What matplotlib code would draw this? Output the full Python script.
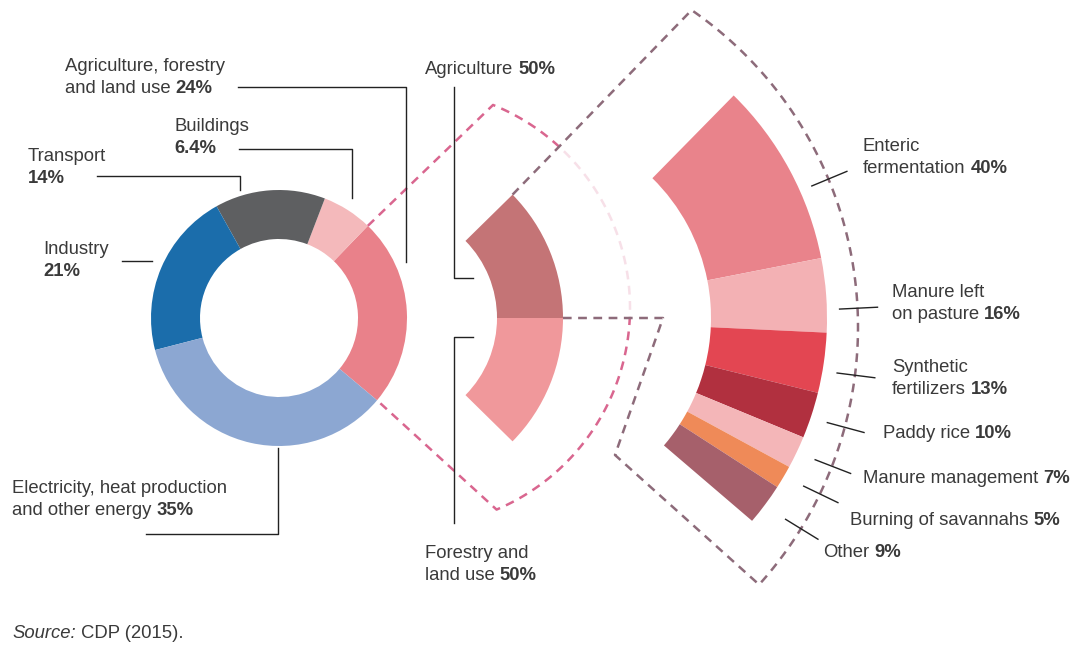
import numpy as np
import matplotlib.pyplot as plt
from matplotlib.patches import Polygon

# ==========================================
# DATA
# ==========================================
sector_names = ['Agriculture, forestry\nand land use', 'Buildings\n', 'Transport\n',
                'Industry\n', 'Electricity, heat production\nand other energy']
sector_shares = [24, 6.4, 14, 21, 35]
sector_colors = ['#e9818a', '#f4b9bb', '#5e5f61', '#1b6dab', '#8ca7d2']

afolu_names = ['Agriculture', 'Forestry and\nland use']
afolu_shares = [50, 50]
afolu_colors = ['#c47476', '#f0989b']

agri_names = ['Enteric\nfermentation', 'Manure left\non pasture', 'Synthetic\nfertilizers',
              'Paddy rice', 'Manure management', 'Burning of savannahs', 'Other']
agri_shares = [40, 16, 13, 10, 7, 5, 9]
agri_colors = ['#e9838b', '#f3b1b4', '#e34652', '#b1303f', '#f4b6b8', '#ef8a58', '#a6606b']

# ==========================================
# LAYOUT (pixel space, y measured from top)
# ==========================================
W, H = 1075, 647
FS = 13.3
TXT = '#3a3a3a'
PINK = '#d9668f'
MAUVE = '#8d6b7a'

plt.rcParams['font.family'] = ['Liberation Sans', 'DejaVu Sans']


def Y(y):
    return H - y


def polar(c, r, a):
    t = np.radians(a)
    return c[0] + r * np.cos(t), c[1] + r * np.sin(t)


def arc(c, r, a0, a1, n=120):
    t = np.radians(np.linspace(a0, a1, n))
    return list(zip(c[0] + r * np.cos(t), c[1] + r * np.sin(t)))


donut_c, donut_r, donut_w = (279, Y(318)), 128, 49
mid_c, mid_r, mid_w = (387, Y(318)), 176, 66
right_c, right_r, right_w = (515, Y(318)), 312, 116
pink_c, pink_r = (411, Y(308)), 219
big_c, big_r = (473, Y(327)), 385

fig = plt.figure(figsize=(W / 100, H / 100), dpi=100)
ax = fig.add_axes([0, 0, 1, 1])
renderer = fig.canvas.get_renderer()

# ---- main donut
donut_start = -40
ax.pie(sector_shares, colors=sector_colors, startangle=donut_start, counterclock=True,
       center=donut_c, radius=donut_r, frame=True, labeldistance=None,
       wedgeprops=dict(width=donut_w, linewidth=0))
ag_span = sector_shares[0] / sum(sector_shares) * 360
ag_top = donut_start + ag_span

# ---- pink "zoom" outline from the agriculture slice
pink_pts = [polar(donut_c, donut_r, ag_top)] + arc(pink_c, pink_r, 68, -67) + \
           [polar(donut_c, donut_r, donut_start)]
px, py = zip(*pink_pts)
ax.plot(px, py, color=PINK, lw=1.8, ls=(0, (3.5, 2.6)), zorder=1)

# ---- middle ring (agriculture vs forestry)
mid_span, mid_top = 89, 44.5
mid_fr = np.array(afolu_shares) / sum(afolu_shares) * mid_span / 360
ax.pie(mid_fr, colors=afolu_colors, startangle=mid_top, counterclock=False, normalize=False,
       center=mid_c, radius=mid_r, frame=True, labeldistance=None,
       wedgeprops=dict(width=mid_w, linewidth=0, zorder=4))
split = mid_top - mid_fr[0] * 360

# ---- mauve outline from the agriculture wedge to the right ring
p1 = polar(mid_c, mid_r, mid_top)
p4 = (615, Y(455))
p5 = (663, polar(mid_c, mid_r, split)[1])
p6 = polar(mid_c, mid_r, split)
outline = [p1] + arc(big_c, big_r, 55.4, -42) + [p4, p5, p6]
fill_pts = outline + arc(mid_c, mid_r, split, mid_top)
ax.add_patch(Polygon(fill_pts, closed=True, facecolor='white', edgecolor='none',
                     alpha=0.8, zorder=2))
ox, oy = zip(*outline)
ax.plot(ox, oy, color=MAUVE, lw=1.8, ls=(0, (3.5, 2.6)), zorder=3)

# ---- right ring (agriculture breakdown)
right_top = 45.5
agri_fr = np.array(agri_shares) / sum(agri_shares) * ag_span / 360
ax.pie(agri_fr, colors=agri_colors, startangle=right_top, counterclock=False, normalize=False,
       center=right_c, radius=right_r, frame=True, labeldistance=None,
       wedgeprops=dict(width=right_w, linewidth=0, zorder=4))

ax.set_xlim(0, W)
ax.set_ylim(0, H)
ax.set_aspect('equal')
ax.axis('off')


# ---- text helpers
def text_width(s, **kw):
    t = ax.text(0, 0, s, fontsize=FS, **kw)
    w = t.get_window_extent(renderer).width
    t.remove()
    return w


SPACE = text_width('a a') - text_width('aa')


def label(x, y_img, name, value, step=22):
    lines = name.split('\n')
    for i, reg in enumerate(lines):
        y = Y(y_img + i * step)
        xx = x
        bold = f'{value:g}%' if i == len(lines) - 1 else ''
        if reg:
            t = ax.text(xx, y, reg, fontsize=FS, color=TXT, va='baseline', zorder=6)
            xx += t.get_window_extent(renderer).width + (SPACE if bold else 0)
        if bold:
            ax.text(xx, y, bold, fontsize=FS, color=TXT, fontweight='bold',
                    va='baseline', zorder=6)


def leader(pts):
    xs, ys = zip(*pts)
    ax.plot(xs, [Y(v) for v in ys], color='#222222', lw=1, zorder=5)


# donut labels
sector_pos = [(65, 71), (174, 131), (28, 161), (43, 254), (12, 493)]
sector_leaders = [
    [(238, 87), (406, 87), (406, 262)],
    [(239, 149), (352, 149), (352, 198)],
    [(97, 176), (240, 176), (240, 190)],
    [(122, 261), (152, 261)],
    [(146, 534), (278, 534), (278, 448)],
]
for name, val, (x, y), ld in zip(sector_names, sector_shares, sector_pos, sector_leaders):
    label(x, y, name, val)
    leader(ld)

# middle labels
afolu_pos = [(425, 74), (425, 558)]
afolu_leaders = [
    [(454, 87), (454, 278), (473, 278)],
    [(454, 523), (454, 337), (473, 337)],
]
for name, val, (x, y), ld in zip(afolu_names, afolu_shares, afolu_pos, afolu_leaders):
    label(x, y, name, val)
    leader(ld)

# right labels with short radial ticks across the dashed arc
agri_pos = [(863, 151), (892, 297), (892, 372), (883, 438), (863, 483), (850, 525), (823, 557)]
tick_angles = [22.6, 2.8, -7.2, -15.1, -21.2, -25.7, -31.6]
for name, val, (x, y), a in zip(agri_names, agri_shares, agri_pos, tick_angles):
    label(x, y, name, val)
    x0, y0 = polar(big_c, big_r - 18, a)
    x1, y1 = polar(big_c, big_r + 20, a)
    ax.plot([x0, x1], [y0, y1], color='#222222', lw=1, zorder=5)

# source
t = ax.text(12, Y(638), 'Source:', fontsize=FS, color=TXT, style='italic', va='baseline')
ax.text(12 + t.get_window_extent(renderer).width + SPACE, Y(638), 'CDP (2015).',
        fontsize=FS, color=TXT, va='baseline')

fig.savefig('out.png', dpi=100)
